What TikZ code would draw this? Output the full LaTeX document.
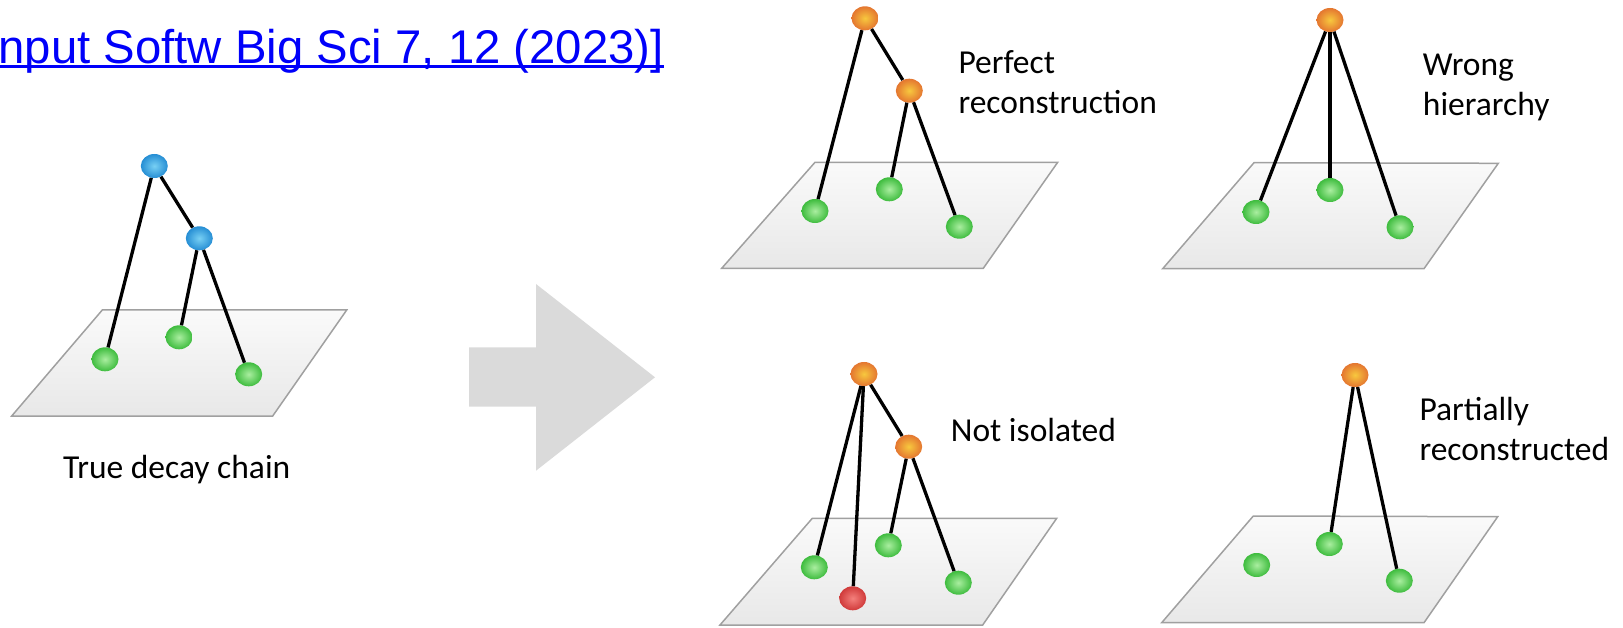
\documentclass[tikz,border=0pt]{standalone}
\usepackage{fontspec}
\usetikzlibrary{shapes.geometric}
\newfontfamily\labelfont{Carlito}
\newfontfamily\linkfont{Liberation Sans}

\definecolor{linkblue}{RGB}{0,0,250}
\definecolor{greenout}{RGB}{62,188,62}
\definecolor{greenin}{RGB}{170,238,160}
\definecolor{orangeout}{RGB}{228,118,48}
\definecolor{orangein}{RGB}{247,200,62}
\definecolor{blueout}{RGB}{38,142,212}
\definecolor{bluein}{RGB}{120,208,244}
\definecolor{redout}{RGB}{208,58,58}
\definecolor{redin}{RGB}{244,128,124}
\definecolor{planeedge}{RGB}{160,160,160}
\definecolor{arrowgray}{RGB}{218,218,218}

\tikzset{
  ball/.style={ellipse, minimum width=27pt, minimum height=24pt, inner sep=0pt},
  greenball/.style={ball, inner color=greenin, outer color=greenout},
  orangeball/.style={ball, inner color=orangein, outer color=orangeout},
  blueball/.style={ball, inner color=bluein, outer color=blueout},
  redball/.style={ball, inner color=redin, outer color=redout},
  plane/.style={draw=planeedge, line width=1.5pt, top color=black!2, bottom color=black!9},
  link/.style={line width=3.3pt, black},
  caption/.style={inner sep=0pt, font=\labelfont\fontsize{33.5}{40}\selectfont},
}

\begin{document}
\begin{tikzpicture}[x=1pt, y=-1pt]
\useasboundingbox (0,0) rectangle (1623,628);

% reference line at the top
\node[anchor=base east, inner sep=0pt, text=linkblue,
      font=\linkfont\fontsize{47.3}{47}\selectfont] (ref) at (664,63.3)
      {nput Softw Big Sci 7, 12 (2023)]};
\draw[linkblue, line width=2.7pt] ([xshift=-4pt,yshift=-3pt]ref.base west) -- ([yshift=-3pt]ref.base east);

% ---------- true decay chain ----------
\path[plane] (102.3,310) -- (346.7,310) -- (272.7,416) -- (11.7,416) -- cycle;
\node[blueball]  (t0) at (154.3,166) {};
\node[blueball]  (m0) at (199.3,238.3) {};
\node[greenball] (a0) at (105,359.3) {};
\node[greenball] (b0) at (179,337.3) {};
\node[greenball] (c0) at (248.7,374.3) {};
\draw[link] (t0) -- (a0);
\draw[link] (t0) -- (m0);
\draw[link] (m0) -- (b0);
\draw[link] (m0) -- (c0);
\node[caption, anchor=base] (truecap) at (176.7,478) {True decay chain};

% ---------- big arrow ----------
\fill[arrowgray] (469,347.3) -- (536,347.3) -- (536,284) -- (655,377.3)
  -- (536,470.7) -- (536,406.7) -- (469,406.7) -- cycle;

% ---------- perfect reconstruction ----------
\path[plane] (815,162.3) -- (1057.7,162.3) -- (983.3,268.3) -- (721.7,268.3) -- cycle;
\node[orangeball] (t1) at (865,18.3) {};
\node[orangeball] (m1) at (909.3,90.7) {};
\node[greenball]  (a1) at (815,211) {};
\node[greenball]  (b1) at (889.3,189.3) {};
\node[greenball]  (c1) at (959.3,226.7) {};
\draw[link] (t1) -- (a1);
\draw[link] (t1) -- (m1);
\draw[link] (m1) -- (b1);
\draw[link] (m1) -- (c1);
\node[caption, anchor=base west] (cap1a) at (958.3,74) {Perfect};
\node[caption, anchor=base west] (cap1b) at (958.3,114) {reconstruction};

% ---------- wrong hierarchy ----------
\path[plane] (1254,162.7) -- (1498.3,163.3) -- (1424,268.7) -- (1162.7,268.7) -- cycle;
\node[orangeball] (t2) at (1330,20) {};
\node[greenball]  (a2) at (1256,212) {};
\node[greenball]  (b2) at (1330,190) {};
\node[greenball]  (c2) at (1400,227.3) {};
\draw[link] (t2) -- (a2);
\draw[link] (t2) -- (b2);
\draw[link] (t2) -- (c2);
\node[caption, anchor=base west] (cap2a) at (1422.7,76) {Wrong};
\node[caption, anchor=base west] (cap2b) at (1422.7,116) {hierarchy};

% ---------- not isolated ----------
\path[plane] (812.3,518.3) -- (1056.7,518.3) -- (982.7,625) -- (720,625) -- cycle;
\node[orangeball] (t3) at (864,374) {};
\node[orangeball] (m3) at (908.7,446.7) {};
\node[greenball]  (a3) at (814.3,567.3) {};
\node[redball]    (r3) at (852.7,598.3) {};
\node[greenball]  (b3) at (888.3,545.3) {};
\node[greenball]  (c3) at (958.3,582.7) {};
\draw[link] (t3) -- (a3);
\draw[link] (t3) -- (r3);
\draw[link] (t3) -- (m3);
\draw[link] (m3) -- (b3);
\draw[link] (m3) -- (c3);
\node[caption, anchor=base west] (cap3) at (950.7,441.5) {Not isolated};

% ---------- partially reconstructed ----------
\path[plane] (1253.3,516) -- (1497.7,516.7) -- (1424,622.7) -- (1161.7,622.7) -- cycle;
\node[orangeball] (t4) at (1355,375) {};
\node[greenball]  (a4) at (1256.7,565) {};
\node[greenball]  (b4) at (1329.3,544) {};
\node[greenball]  (c4) at (1399.3,580.7) {};
\draw[link] (t4) -- (b4);
\draw[link] (t4) -- (c4);
\node[caption, anchor=base west] (cap4a) at (1419.3,420) {Partially};
\node[caption, anchor=base west] (cap4b) at (1419.3,460) {reconstructed};

\end{tikzpicture}
\end{document}
